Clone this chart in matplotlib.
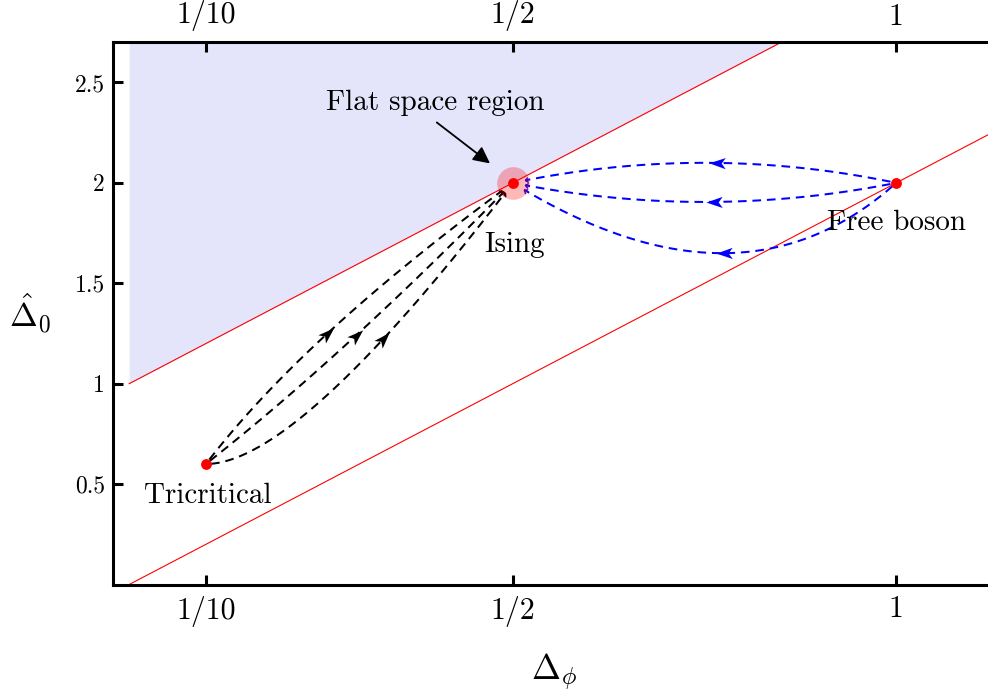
import numpy as np
import matplotlib
matplotlib.use("Agg")
import matplotlib.pyplot as plt
from matplotlib.path import Path
from matplotlib.markers import MarkerStyle
from matplotlib.transforms import Affine2D

plt.rcParams["font.family"] = "cmr10"
plt.rcParams["mathtext.fontset"] = "cm"
plt.rcParams["axes.formatter.use_mathtext"] = True

# Fixed points in the (Δφ, Δ̂0) plane
point_names = ["Tricritical", "Ising", "Free boson"]
point_x = [0.1, 0.5, 1.0]
point_y = [0.6, 2.0, 2.0]

# Boundary lines  Δ̂0 = 2 Δφ + offset
bound_slope = 2.0
bound_offsets = [1.0, 0.0]

# RG flows (quadratic Bézier control points)
black_ctrl_x = [0.227, 0.278, 0.220]   # Tricritical -> Ising
black_ctrl_y = [1.236, 1.133, 0.600]
blue_ctrl_x = [0.750, 0.750, 0.796]    # Free boson -> Ising
blue_ctrl_y = [2.200, 1.810, 1.300]

xtick_vals = [0.1, 0.5, 1.0]
xtick_labels = ["1/10", "1/2", "1"]
ytick_vals = [0.5, 1.0, 1.5, 2.0, 2.5]
ytick_labels = ["0.5", "1", "1.5", "2", "2.5"]

# where along each flow (fraction of its length) the direction arrow sits
black_arrow_at = [0.43, 0.48, 0.53]
blue_arrow_at = [0.47, 0.48, 0.46]

XMIN, XMAX = -0.0207, 1.1288
YMIN, YMAX = 0.0, 2.70

fig = plt.figure(figsize=(9.88, 6.96), dpi=100)
ax = fig.add_axes([0.1147, 0.1602, 0.8924, 0.7790])
ax.set_xlim(XMIN, XMAX)
ax.set_ylim(YMIN, YMAX)

# shaded flat-space region above the upper boundary
xs = np.linspace(0.0, XMAX, 400)
upper = bound_slope * xs + bound_offsets[0]
ax.fill_between(xs, np.minimum(upper, YMAX), YMAX, color="#e4e4fb", lw=0, zorder=0)

for off in bound_offsets:
    ax.plot(xs, bound_slope * xs + off, color="red", lw=0.8, zorder=2)


def bezier(p0, c, p2, n=400):
    t = np.linspace(0, 1, n)[:, None]
    return (1 - t) ** 2 * np.asarray(p0) + 2 * t * (1 - t) * np.asarray(c) + t ** 2 * np.asarray(p2)


stealth = Path([(1.0, 0.0), (-0.8, 0.62), (-0.35, 0.0), (-0.8, -0.62), (1.0, 0.0)],
               [Path.MOVETO, Path.LINETO, Path.LINETO, Path.LINETO, Path.CLOSEPOLY])
chevron = Path([(-1.0, 0.9), (0.0, 0.0), (-1.0, -0.9)],
               [Path.MOVETO, Path.LINETO, Path.LINETO])


def draw_flow(p0, c, p2, color, frac):
    pts = bezier(p0, c, p2)
    disp = ax.transData.transform(pts)
    d_end = np.hypot(*(disp - disp[-1]).T)
    d_start = np.hypot(*(disp - disp[0]).T)
    keep = (d_end >= 12) & (d_start >= 5)
    pts, disp = pts[keep], disp[keep]
    ax.plot(pts[:, 0], pts[:, 1], color=color, lw=1.45,
            linestyle=(0, (4.3, 2.9)), zorder=3)
    seg = np.hypot(*np.diff(disp, axis=0).T)
    s = np.concatenate([[0], np.cumsum(seg)])
    i = np.searchsorted(s, s[-1] * frac)
    d = disp[i + 1] - disp[i - 1]
    ang = np.degrees(np.arctan2(d[1], d[0]))
    mk = MarkerStyle(stealth, transform=Affine2D().rotate_deg(ang))
    ax.plot(pts[i, 0], pts[i, 1], marker=mk, ms=13, color=color, mew=0, zorder=4)
    d2 = disp[-1] - disp[-4]
    ang2 = np.degrees(np.arctan2(d2[1], d2[0]))
    mk2 = MarkerStyle(chevron, fillstyle="none", transform=Affine2D().rotate_deg(ang2))
    ax.plot(pts[-1, 0], pts[-1, 1], marker=mk2, ms=4, color=color,
            mfc="none", mew=1.0, zorder=4)


tri = (point_x[0], point_y[0])
ising = (point_x[1], point_y[1])
free = (point_x[2], point_y[2])
for cx, cy, f in zip(black_ctrl_x, black_ctrl_y, black_arrow_at):
    draw_flow(tri, (cx, cy), ising, "black", f)
for cx, cy, f in zip(blue_ctrl_x, blue_ctrl_y, blue_arrow_at):
    draw_flow(free, (cx, cy), ising, "blue", f)

# fixed points
ax.plot(point_x[1], point_y[1], "o", ms=23.5, color="red", alpha=0.28, mew=0, zorder=5)
ax.plot(point_x, point_y, "o", ms=7.8, color="red", mew=0, zorder=6)

label_kw = dict(fontsize=21, ha="center", va="baseline", zorder=7)
ax.text(0.102, 0.405, point_names[0], **label_kw)
ax.text(0.502, 1.654, point_names[1], **label_kw)
ax.text(1.000, 1.764, point_names[2], **label_kw)
ax.text(0.399, 2.361, "Flat space region", **label_kw)
ax.annotate("", xy=(0.4704, 2.097), xytext=(0.401, 2.301),
            arrowprops=dict(arrowstyle="-|>", color="black", lw=1.3,
                            mutation_scale=25, shrinkA=0, shrinkB=0), zorder=7)

# axes styling
for side in ["left", "bottom", "top"]:
    ax.spines[side].set_linewidth(2.2)
ax.spines["right"].set_visible(False)

ax.set_xticks(xtick_vals)
ax.set_xticklabels(xtick_labels)
ax.set_yticks(ytick_vals)
ax.set_yticklabels(ytick_labels)
ax.tick_params(axis="x", direction="in", length=7, width=2.2, labelsize=21.5,
               pad=8, top=True, labeltop=True)
ax.tick_params(axis="y", direction="in", length=7, width=2.2, labelsize=17,
               pad=6, right=False)

ax.set_xlabel(r"$\Delta_\phi$", fontsize=25)
ax.xaxis.set_label_coords(0.5, -0.125)
ax.set_ylabel(r"$\hat{\Delta}_0$", fontsize=24, rotation=0, ha="center", va="center")
ax.yaxis.set_label_coords(-0.0945, 0.5)

fig.savefig("out.png", dpi=100)
